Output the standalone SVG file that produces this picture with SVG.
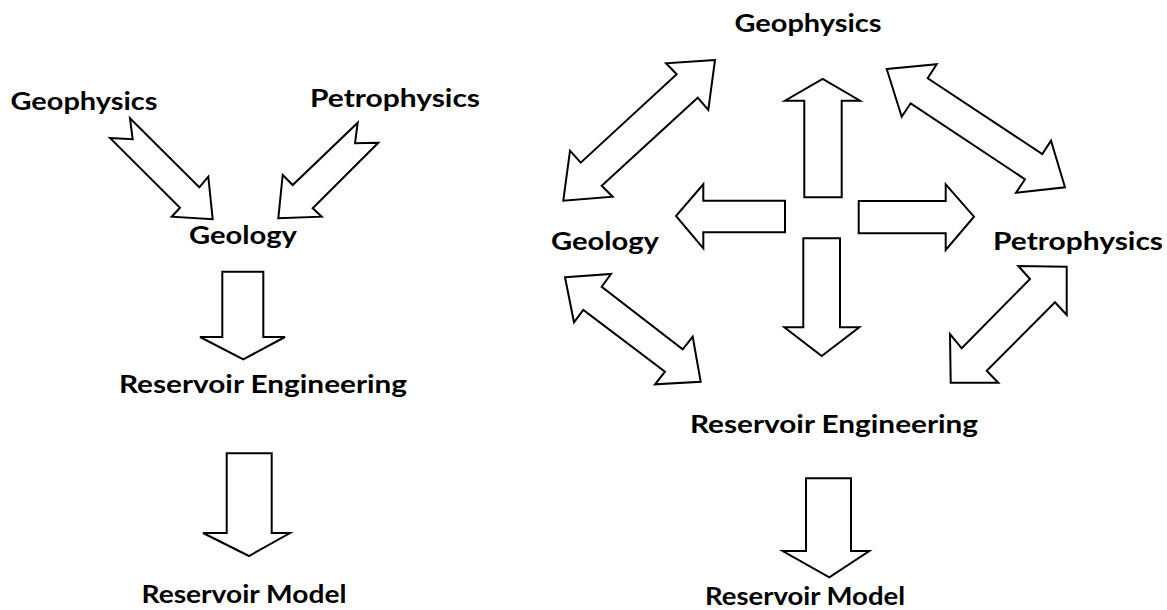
<svg xmlns="http://www.w3.org/2000/svg" width="1167" height="610" viewBox="0 0 1167 610">
<style>
.a{fill:#fff;stroke:#000;stroke-width:2;stroke-linejoin:miter}
.t{font-family:Lato,"Open Sans","Liberation Sans",sans-serif;font-weight:bold;font-size:24px;fill:#000;text-anchor:middle}
</style>
<rect width="1167" height="610" fill="#fff"/>
<g id="nodes">
<g id="l-geophysics"><text class="t" x="84" y="110" textLength="147" lengthAdjust="spacingAndGlyphs">Geophysics</text></g>
<g id="l-petrophysics"><text class="t" x="395" y="107" textLength="170" lengthAdjust="spacingAndGlyphs">Petrophysics</text></g>
<g id="l-geology"><text class="t" x="243" y="244" textLength="108" lengthAdjust="spacingAndGlyphs">Geology</text></g>
<g id="l-reseng"><text class="t" x="263" y="393" textLength="288" lengthAdjust="spacingAndGlyphs">Reservoir Engineering</text></g>
<g id="l-resmodel"><text class="t" x="244" y="603" textLength="205" lengthAdjust="spacingAndGlyphs">Reservoir Model</text></g>
<g id="r-geophysics"><text class="t" x="808" y="32" textLength="147" lengthAdjust="spacingAndGlyphs">Geophysics</text></g>
<g id="r-geology"><text class="t" x="605" y="250" textLength="108" lengthAdjust="spacingAndGlyphs">Geology</text></g>
<g id="r-petrophysics"><text class="t" x="1078" y="250" textLength="170" lengthAdjust="spacingAndGlyphs">Petrophysics</text></g>
<g id="r-reseng"><text class="t" x="834" y="433" textLength="288" lengthAdjust="spacingAndGlyphs">Reservoir Engineering</text></g>
<g id="r-resmodel"><text class="t" x="805" y="605" textLength="200" lengthAdjust="spacingAndGlyphs">Reservoir Model</text></g>
</g>
<g id="connectors">
<polygon class="a" points="110,138 132.7,139.3 130,118.3 199.3,187.3 208.3,176.7 212.7,219.3 171.7,216.7 180,207.7"/>
<polygon class="a" points="378.3,142.7 355,143.3 357.7,122.7 292.7,185 282.7,175 278.3,218.3 321.7,216.7 312.7,208.3"/>
<polygon class="a" points="222.3,271.7 263.3,271.7 263.3,337 285,337 243.3,359.3 200,337 222.3,337"/>
<polygon class="a" points="226.7,453.3 271.7,453.3 271.7,533 290,533 249,556 203,533 226.7,533"/>
<polygon class="a" points="804.3,197.3 804.3,100.7 785,100.7 822.7,79 860,100.7 841.7,100.7 841.7,197.3"/>
<polygon class="a" points="785,200.7 703.3,200.7 703.3,184.3 676,216 703.3,248.3 703.3,232.3 785,232.3"/>
<polygon class="a" points="858.7,201 945.7,201 945.7,184.3 974,216.7 945.7,250 945.7,233.3 858.7,233.3"/>
<polygon class="a" points="803.3,238.3 840,238.3 840,327.3 859.3,327.3 821.7,356 784.3,327.3 803.3,327.3"/>
<polygon class="a" points="806,478.3 851,478.3 851,551 869.3,551 829.3,577.3 782.7,551 806,551"/>
<polygon class="a" points="715,60 666,63.3 676.7,74.3 580.7,162.7 570,150.7 563.3,200.7 612.7,196.7 601.7,185.7 697.7,97.7 708.3,110"/>
<polygon class="a" points="886.7,69 936.7,64.3 927.7,78.3 1042.3,154 1051,140.7 1065,187.3 1016,192.7 1025,179.3 910.7,103.3 901.7,116.7"/>
<polygon class="a" points="565,277.3 611,274 601.7,286.7 682.7,349.3 692.7,336.7 700.7,381.7 655,384.3 665,371.7 583.3,310 574,322.3"/>
<polygon class="a" points="1066.7,266.7 1018.3,266 1030,279 961.7,348.3 950,334 950.7,382.7 998.3,382.7 986.7,370.7 1055,302.3 1066.7,315"/>
</g>
</svg>
